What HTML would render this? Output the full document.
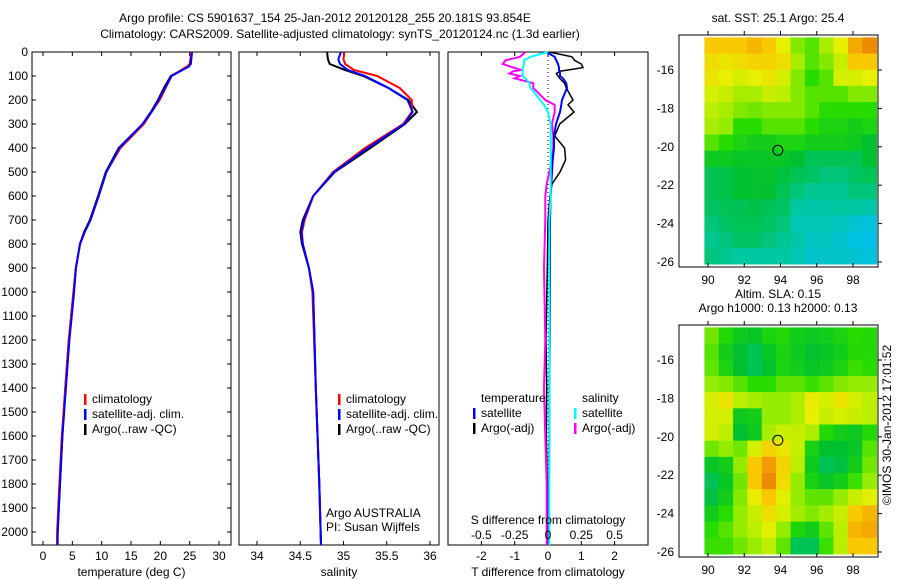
<!DOCTYPE html>
<html><head><meta charset="utf-8"><style>
body{margin:0;background:#fff;}
svg{display:block;font-family:"Liberation Sans",sans-serif;}
text{font-size:12px;fill:#000;}
</style></head><body>
<svg id="fig" width="900" height="580" viewBox="0 0 900 580"></svg>
<script>
// ---------- data ----------
const depthT = [0,50,60,100,150,200,250,300,400,500,600,700,750,800,900,1000,1200,1400,1600,1800,2000,2054];
const tempArgo = [25.4,25.2,24.8,21.8,20.6,19.6,18.4,17.0,12.9,10.7,9.4,8.0,7.0,6.3,5.6,5.2,4.4,3.8,3.3,2.9,2.5,2.4];
const tempClim = [25.3,25.0,24.6,21.9,20.9,19.9,18.5,17.2,13.2,10.8,9.5,8.1,7.1,6.3,5.6,5.2,4.4,3.8,3.2,2.8,2.4,2.4];
const tempSat  = [25.4,25.1,24.9,21.9,20.8,19.7,18.5,17.0,13.0,10.8,9.5,8.1,7.1,6.3,5.6,5.3,4.5,3.9,3.3,2.9,2.5,2.5];
const depthS = [0,30,50,75,100,150,200,250,300,400,500,600,700,750,800,900,1000,1400,1800,2054];
const salArgo = [34.81,34.82,34.84,35.02,35.23,35.52,35.75,35.85,35.71,35.31,34.90,34.65,34.53,34.50,34.52,34.60,34.65,34.68,34.72,34.74];
const salClim = [35.01,35.0,35.02,35.12,35.39,35.65,35.79,35.79,35.69,35.25,34.88,34.65,34.55,34.52,34.53,34.60,34.64,34.68,34.72,34.74];
const salSat  = [34.97,34.94,34.96,35.05,35.25,35.52,35.74,35.80,35.70,35.28,34.89,34.65,34.54,34.51,34.53,34.60,34.65,34.68,34.72,34.74];
const depthD = [0,20,35,50,65,75,80,90,100,110,130,150,200,220,250,300,350,400,450,500,550,600,700,900,1200,1400,1600,1800,2054];
const dTsat  = [-0.05,0.2,0.25,0.3,0.33,0.33,0.35,0.36,0.36,0.45,0.55,0.57,0.42,0.4,0.36,0.24,0.18,0.18,0.14,0.12,0.1,0.08,0.06,0.06,0.05,0.04,0.04,0.03,0.03];
const dTargo = [0.03,0.72,0.8,1.0,1.05,0.6,0.35,0.25,0.3,0.35,0.5,0.55,0.75,0.6,0.78,0.35,0.2,0.5,0.53,0.36,0.12,0.06,0.0,-0.02,-0.06,-0.04,-0.05,-0.02,-0.02];
const dSargo = [-0.17,-0.21,-0.32,-0.34,-0.26,-0.2,-0.26,-0.29,-0.21,-0.25,-0.11,-0.11,-0.02,0.05,0.05,0.03,0.04,0.04,0.03,0.01,-0.01,-0.02,-0.02,-0.03,-0.02,-0.03,-0.02,-0.01,-0.01];
const dSsat  = [0.0,-0.13,-0.18,-0.18,-0.19,-0.19,-0.19,-0.19,-0.19,-0.17,-0.14,-0.13,-0.06,-0.03,0.0,0.02,0.02,0.02,0.02,0.02,0.02,0.02,0.01,0.01,0.01,0.01,0.01,0.01,0.01];
const depthTicks = [0,100,200,300,400,500,600,700,800,900,1000,1100,1200,1300,1400,1500,1600,1700,1800,1900,2000];
const tempTicks = [0,5,10,15,20,25,30];
const salTicks = [34,34.5,35,35.5,36];
const dTTicks = [-2,-1,0,1,2];
const dSTicks = [-0.5,-0.25,0,0.25,0.5];
const lonTicks = [90,92,94,96,98];
const latTicks = [-16,-18,-20,-22,-24,-26];
const sstGrid = [
[0.85,0.85,0.85,0.88,0.85,0.75,0.6,0.55,0.65,0.75,0.9,0.95],
[0.8,0.78,0.8,0.82,0.82,0.8,0.65,0.55,0.6,0.7,0.85,0.85],
[0.78,0.75,0.72,0.75,0.78,0.72,0.6,0.5,0.55,0.72,0.72,0.75],
[0.72,0.7,0.65,0.65,0.7,0.68,0.6,0.55,0.55,0.55,0.6,0.6],
[0.68,0.65,0.6,0.58,0.6,0.6,0.6,0.55,0.5,0.5,0.5,0.5],
[0.65,0.62,0.5,0.5,0.55,0.55,0.55,0.5,0.45,0.45,0.42,0.45],
[0.55,0.5,0.45,0.42,0.42,0.45,0.45,0.42,0.42,0.42,0.4,0.35],
[0.4,0.4,0.38,0.38,0.38,0.38,0.35,0.3,0.3,0.3,0.3,0.35],
[0.3,0.32,0.35,0.36,0.36,0.33,0.3,0.28,0.25,0.25,0.28,0.3],
[0.3,0.32,0.35,0.36,0.35,0.3,0.25,0.22,0.22,0.22,0.25,0.25],
[0.28,0.3,0.3,0.32,0.3,0.28,0.2,0.18,0.18,0.2,0.2,0.18],
[0.25,0.28,0.3,0.3,0.28,0.25,0.15,0.15,0.15,0.12,0.08,0.05],
[0.22,0.25,0.28,0.28,0.25,0.22,0.18,0.12,0.12,0.08,0.05,0.02],
[0.25,0.22,0.2,0.2,0.2,0.2,0.15,0.1,0.1,0.1,0.08,0.05]];
const slaGrid = [
[0.58,0.48,0.4,0.38,0.45,0.48,0.42,0.4,0.42,0.45,0.5,0.48],
[0.55,0.42,0.35,0.3,0.38,0.45,0.4,0.36,0.38,0.42,0.48,0.48],
[0.56,0.45,0.35,0.3,0.36,0.45,0.42,0.38,0.4,0.45,0.52,0.5],
[0.62,0.6,0.55,0.5,0.5,0.56,0.56,0.52,0.56,0.6,0.62,0.62],
[0.72,0.78,0.68,0.65,0.62,0.62,0.66,0.76,0.72,0.78,0.72,0.68],
[0.72,0.72,0.4,0.42,0.62,0.62,0.66,0.75,0.7,0.72,0.7,0.68],
[0.72,0.68,0.35,0.4,0.65,0.7,0.7,0.66,0.48,0.42,0.4,0.48],
[0.58,0.62,0.58,0.72,0.82,0.78,0.7,0.44,0.35,0.35,0.38,0.55],
[0.38,0.42,0.62,0.85,0.92,0.82,0.68,0.4,0.3,0.33,0.42,0.58],
[0.3,0.38,0.58,0.85,0.95,0.8,0.62,0.44,0.38,0.42,0.52,0.62],
[0.33,0.42,0.6,0.76,0.85,0.74,0.62,0.56,0.56,0.62,0.7,0.74],
[0.42,0.5,0.62,0.7,0.8,0.72,0.64,0.6,0.64,0.7,0.85,0.88],
[0.5,0.55,0.62,0.68,0.74,0.62,0.46,0.42,0.56,0.68,0.88,0.9],
[0.52,0.52,0.58,0.63,0.68,0.56,0.3,0.3,0.52,0.68,0.85,0.85]];
const argoLon = 93.854, argoLat = -20.181;

// ---------- helpers ----------
const NS="http://www.w3.org/2000/svg";
const svg=document.getElementById('fig');
function mk(tag,attrs,parent){const e=document.createElementNS(NS,tag);for(const k in attrs)e.setAttribute(k,attrs[k]);(parent||svg).appendChild(e);return e;}
function txt(x,y,s,anchor,parent){const t=mk('text',{x:x,y:y,'text-anchor':anchor||'start'},parent);t.textContent=s;return t;}
const lin=(d0,d1,r0,r1)=>v=>r0+(v-d0)*(r1-r0)/(d1-d0);
const yD = lin(0,2000,52,532);
const PT=545;

let t;
t=txt(325,22,'Argo profile: CS 5901637_154 25-Jan-2012 20120128_255 20.181S 93.854E','middle');

t=txt(340,38,'Climatology: CARS2009. Satellite-adjusted climatology: synTS_20120124.nc (1.3d earlier)','middle');


function panel(name,x0,x1,xs,ticks,fmt,xlabel,leftLabels){
  const g=mk('g',{});
  
  
  mk('rect',{x:x0,y:52,width:x1-x0,height:PT-52,fill:'none',stroke:'#000','stroke-width':1},g);
  ticks.forEach(v=>{const x=xs(v);
    mk('line',{x1:x,x2:x,y1:52,y2:56,stroke:'#000'},g);
    mk('line',{x1:x,x2:x,y1:PT,y2:PT-4,stroke:'#000'},g);
    if(fmt){const l=txt(x,560,fmt(v),'middle',g);}
  });
  if(xlabel){const l=txt((x0+x1)/2,576,xlabel,'middle',g);}
  if(leftLabels){depthTicks.forEach(d=>{const y=yD(d);
    mk('line',{x1:x0,x2:x0+4,y1:y,y2:y,stroke:'#000'},g);
    mk('line',{x1:x1,x2:x1-4,y1:y,y2:y,stroke:'#000'},g);
    const l=txt(28,y+4,String(d),'end',g);});}
  return g;
}
function line(g,xs,vals,depths,color,name,w){
  const pts=vals.map((v,i)=>xs(v).toFixed(1)+','+yD(depths[i]).toFixed(1)).join(' ');
  const p=mk('polyline',{points:pts,fill:'none',stroke:color,'stroke-width':w||2},g);
  
}
function legend(g,x,y,items){
  items.forEach((it,i)=>{
    mk('rect',{x:x,y:y+i*15-9,width:2.5,height:11,fill:it[1]},g);
    const l=txt(x+8,y+i*15,it[0],'start',g);
    
  });
}

const xT=lin(0,30,43,219);
const g1=panel('temperature-panel',32,231,xT,tempTicks,v=>String(v),'temperature (deg C)',true);
line(g1,xT,tempArgo,depthT,'#000','argo-temperature-line');
line(g1,xT,tempClim,depthT,'#f00','climatology-temperature-line');
line(g1,xT,tempSat,depthT,'#00f','satellite-temperature-line');
legend(g1,84,403,[['climatology','#f00'],['satellite-adj. clim.','#00f'],['Argo(..raw -QC)','#000']]);

const xS=lin(34,36,257,430);
const g2=panel('salinity-panel',239,439,xS,salTicks,v=>String(v),'salinity',false);
line(g2,xS,salArgo,depthS,'#000','argo-salinity-line');
line(g2,xS,salClim,depthS,'#f00','climatology-salinity-line');
line(g2,xS,salSat,depthS,'#00f','satellite-salinity-line');
legend(g2,338,403,[['climatology','#f00'],['satellite-adj. clim.','#00f'],['Argo(..raw -QC)','#000']]);
t=txt(326,517,'Argo AUSTRALIA','start',g2);
t=txt(326,531,'PI: Susan Wijffels','start',g2);

const xDT=lin(0,1,548,581.3);
const xDS=v=>xDT(v*4);
const g3=panel('difference-panel',448,648,xDT,dTTicks,v=>String(v),'T difference from climatology',false);
mk('line',{x1:xDT(0),x2:xDT(0),y1:52,y2:PT,stroke:'#000','stroke-dasharray':'1,3'},g3);
line(g3,xDT,dTargo,depthD,'#000','argo-t-diff-line',1.5);
line(g3,xDS,dSargo,depthD,'#f0f','argo-s-diff-line');
line(g3,xDT,dTsat,depthD,'#00f','satellite-t-diff-line');
line(g3,xDS,dSsat,depthD,'#0ff','satellite-s-diff-line');
dSTicks.forEach(v=>{const l=txt(xDS(v),539,String(v),'middle',g3);});
t=txt(548,524,'S difference from climatology','middle',g3);
t=txt(481,402,'temperature','start',g3);
t=txt(582,402,'salinity','start',g3);
legend(g3,473,417,[['satellite','#00f'],['Argo(-adj)','#000']]);
legend(g3,574,417,[['satellite','#0ff'],['Argo(-adj)','#f0f']]);

const stops=[[0,[0,192,240]],[0.2,[0,200,160]],[0.35,[0,192,48]],[0.5,[40,220,0]],[0.62,[150,236,0]],[0.75,[230,240,0]],[0.85,[248,200,0]],[0.93,[240,150,0]],[1,[224,112,0]]];
function cmap(v){for(let i=1;i<stops.length;i++){if(v<=stops[i][0]){const a=stops[i-1],b=stops[i],f=(v-a[0])/(b[0]-a[0]);return 'rgb('+a[1].map((c,k)=>Math.round(c+f*(b[1][k]-c))).join(',')+')';}}return 'rgb(224,112,0)';}
function map(name,top,grid,title){
  const bottom=top+232;
  const xL=lin(90,98,708,853);
  const yL=lin(-16,-26,top+35,top+227);
  const g=mk('g',{});
  
  const lon0=89.8,lon1=99.3,lat0=-14.3,lat1=-26.1;
  const nr=grid.length,nc=grid[0].length;
  grid.forEach((row,r)=>row.forEach((v,c)=>{
    const xa=xL(lon0+(lon1-lon0)*c/nc),xb=xL(lon0+(lon1-lon0)*(c+1)/nc);
    const ya=yL(lat0+(lat1-lat0)*r/nr),yb=yL(lat0+(lat1-lat0)*(r+1)/nr);
    const cell=mk('rect',{x:xa.toFixed(1),y:ya.toFixed(1),width:(xb-xa+0.6).toFixed(1),height:(yb-ya+0.6).toFixed(1),fill:cmap(v)},g);
    
  }));
  mk('rect',{x:679,y:top,width:199,height:bottom-top,fill:'none',stroke:'#000'},g);
  lonTicks.forEach(v=>{const x=xL(v);mk('line',{x1:x,x2:x,y1:top,y2:top-4,stroke:'#000'},g);mk('line',{x1:x,x2:x,y1:bottom,y2:bottom-4,stroke:'#000'},g);
    const l=txt(x,bottom+17,String(v),'middle',g);});
  latTicks.forEach(v=>{const y=yL(v);mk('line',{x1:878,x2:882,y1:y,y2:y,stroke:'#000'},g);
    const l=txt(674,y+4,String(v),'end',g);});
  const c=mk('circle',{cx:xL(argoLon),cy:yL(argoLat),r:5,fill:'none',stroke:'#000','stroke-width':1},g);
  
  title.forEach((s,i)=>{const l=txt(778,top-13-14*(title.length-1-i),s,'middle',g);});
}
map('sst-map',35,sstGrid,['sat. SST: 25.1  Argo: 25.4']);
map('sla-map',325,slaGrid,['Altim. SLA: 0.15','Argo h1000: 0.13 h2000: 0.13']);
t=txt(0,0,'©IMOS 30-Jan-2012 17:01:52','middle');
t.setAttribute('transform','translate(891,425) rotate(-90)');

</script>
</body></html>
